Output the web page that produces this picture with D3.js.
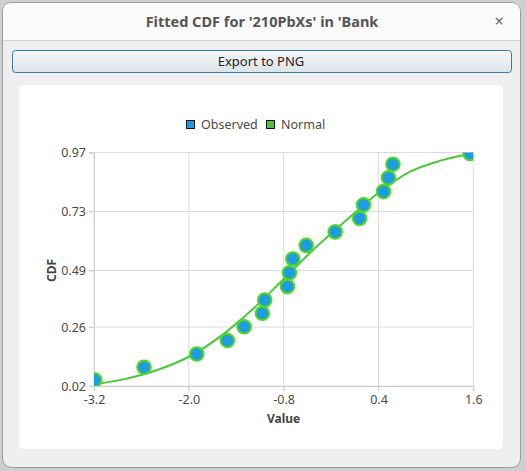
<!DOCTYPE html>
<html>
<head>
<meta charset="utf-8">
<script src="https://cdn.jsdelivr.net/npm/d3@7"></script>
<style>
  html, body { margin: 0; padding: 0; background: #cfcfcf; }
  svg { display: block; font-family: "Noto Sans", "Open Sans", sans-serif; }
</style>
</head>
<body>
<svg id="win" width="526" height="471"></svg>
<script>
// observed sample (value, empirical CDF)
let obsX = [-3.19, -2.567, -1.90, -1.512, -1.30, -1.07, -1.04, -0.752, -0.727,
            -0.684, -0.515, -0.148, 0.161, 0.211, 0.464, 0.527, 0.583, 1.558];
let obsY = [0.044, 0.096, 0.150, 0.205, 0.261, 0.316, 0.370, 0.425, 0.481,
            0.537, 0.592, 0.647, 0.702, 0.757, 0.811, 0.867, 0.922, 0.966];

// fitted normal CDF
let fitX = [-3.2, -2.8, -2.4, -2.0, -1.6, -1.2, -0.8, -0.4, 0.0, 0.4, 0.8, 1.2, 1.6];
let fitY = [0.027, 0.049, 0.085, 0.139, 0.222, 0.330, 0.455, 0.582, 0.697, 0.806, 0.892, 0.938, 0.967];

let xTicks = [-3.2, -2.0, -0.8, 0.4, 1.6];
let yTicks = [0.02, 0.26, 0.49, 0.73, 0.97];
let legendNames = ["Observed", "Normal"];

let svg = d3.select("#win");

// window frame
svg.append("rect").attr("x", 2.5).attr("y", 2.5).attr("width", 518).attr("height", 465)
  .attr("rx", 9).attr("fill", "#efefef").attr("stroke", "#9c9c9c");
svg.append("path")
  .attr("d", "M3,41 L3,12 Q3,3 12,3 L511,3 Q520,3 520,12 L520,41 Z")
  .attr("fill", "#fafafa");
svg.append("line").attr("x1", 3).attr("x2", 520).attr("y1", 40.5).attr("y2", 40.5)
  .attr("stroke", "#d5d5d5");
svg.append("text").attr("x", 262).attr("y", 27).attr("text-anchor", "middle")
  .attr("font-size", 14.5).attr("font-weight", "bold").attr("fill", "#555")
  .text("Fitted CDF for '210PbXs' in 'Bank");
svg.append("text").attr("x", 499).attr("y", 27).attr("text-anchor", "middle")
  .attr("font-size", 16).attr("fill", "#666").text("×");

// button
let grad = svg.append("defs").append("linearGradient").attr("id", "btn")
  .attr("x1", 0).attr("x2", 0).attr("y1", 0).attr("y2", 1);
grad.append("stop").attr("offset", "0%").attr("stop-color", "#f6f8fa");
grad.append("stop").attr("offset", "100%").attr("stop-color", "#dce3e9");
svg.append("rect").attr("x", 12.5).attr("y", 50.5).attr("width", 499).attr("height", 22)
  .attr("rx", 3).attr("fill", "url(#btn)").attr("stroke", "#3a78ad");
svg.append("text").attr("x", 261).attr("y", 66).attr("text-anchor", "middle")
  .attr("font-size", 13).attr("fill", "#222").text("Export to PNG");

// chart card
svg.append("rect").attr("x", 19).attr("y", 85).attr("width", 484).attr("height", 364)
  .attr("rx", 5).attr("fill", "#fff");

let x = d3.scaleLinear().domain([-3.2, 1.6]).range([94, 473.3]);
let y = d3.scaleLinear().domain([0.02, 0.97]).range([386, 152.5]);

svg.select("defs").append("clipPath").attr("id", "plot")
  .append("rect").attr("x", 94).attr("y", 152.5).attr("width", 379.3).attr("height", 233.5);

// grid
let g = svg.append("g");
g.selectAll(".vg").data(xTicks).join("line")
  .attr("x1", d => x(d)).attr("x2", d => x(d)).attr("y1", y(0.97)).attr("y2", y(0.02) + 5)
  .attr("stroke", "#dcdcdc");
g.selectAll(".hg").data(yTicks).join("line")
  .attr("y1", d => y(d)).attr("y2", d => y(d)).attr("x1", x(-3.2) - 5).attr("x2", x(1.6))
  .attr("stroke", "#dcdcdc");

// axes
let xAxis = svg.append("g").attr("transform", `translate(0,${y(0.02)})`)
  .call(d3.axisBottom(x).tickValues(xTicks).tickFormat(d => d.toFixed(1)).tickSize(5).tickPadding(4));
let yAxis = svg.append("g").attr("transform", `translate(${x(-3.2)},0)`)
  .call(d3.axisLeft(y).tickValues(yTicks).tickFormat(d => d.toFixed(2)).tickSize(5).tickPadding(3));
[xAxis, yAxis].forEach(a => {
  a.select(".domain").attr("stroke", "#cfcfcf");
  a.selectAll(".tick line").attr("stroke", "#cfcfcf");
  a.selectAll("text").attr("font-size", 12.5).attr("fill", "#4a4a4a")
    .attr("font-family", "\"Noto Sans\", sans-serif");
});

svg.append("text").attr("x", x(-0.8)).attr("y", 423).attr("text-anchor", "middle")
  .attr("font-size", 12).attr("font-weight", "bold").attr("fill", "#444").text("Value");
svg.append("text").attr("transform", `translate(56,${y(0.49)}) rotate(-90)`)
  .attr("text-anchor", "middle").attr("font-size", 12).attr("font-weight", "bold")
  .attr("fill", "#444").text("CDF");

// data layer
let plot = svg.append("g").attr("clip-path", "url(#plot)");
let fitData = fitX.map((v, i) => [v, fitY[i]]);
plot.append("path").datum(fitData)
  .attr("d", d3.line().x(d => x(d[0])).y(d => y(d[1])).curve(d3.curveMonotoneX))
  .attr("fill", "none").attr("stroke", "#4cc63a").attr("stroke-width", 2);

let obsData = obsX.map((v, i) => [v, obsY[i]]);
plot.selectAll("circle").data(obsData).join("circle")
  .attr("cx", d => x(d[0])).attr("cy", d => y(d[1])).attr("r", 6.8)
  .attr("fill", "#1f9ce0").attr("stroke", "#4fd822").attr("stroke-width", 2);

// legend
let legColors = ["#1f9ce0", "#4cc63a"];
let legX = [186, 266];
let leg = svg.append("g");
legendNames.forEach((n, i) => {
  leg.append("rect").attr("x", legX[i] + 0.5).attr("y", 120.5).attr("width", 8).attr("height", 8)
    .attr("fill", legColors[i]).attr("stroke", "#111");
  leg.append("text").attr("x", legX[i] + 15).attr("y", 129).attr("font-size", 12.5)
    .attr("fill", "#4a4a4a").text(n);
});
</script>
</body>
</html>
